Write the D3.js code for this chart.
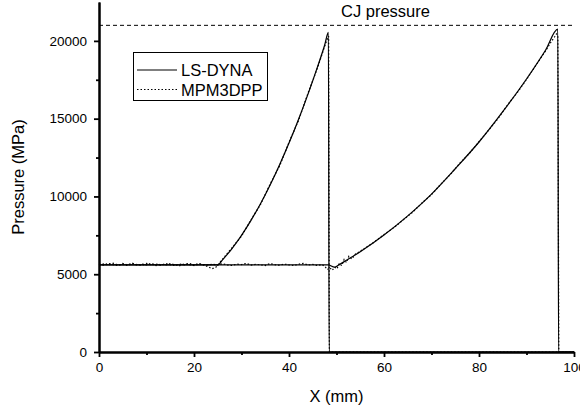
<!DOCTYPE html>
<html lang="en">
<head>
<meta charset="UTF-8">
<title>Pressure profile</title>
<script src="https://d3js.org/d3.v7.min.js"></script>
<style>
  body { margin: 0; background: #fff; }
  text { font-family: "Liberation Sans", Arial, sans-serif; fill: #000; }
</style>
</head>
<body>
<script>
// x in mm, pressure in MPa
const lsDynaA = [[0,5600],[25,5600],[26,5920],[27,6270],[28,6650],[29,7060],[30,7500],[32,8460],[34,9530],
  [36,10720],[38,12020],[40,13430],[42,14950],[44,16580],[46,18330],[47.5,19720],[48.3,20550],[48.45,0],[100,0]]
const lsDynaB = [[0,5600],[48.2,5600],[49.6,5450],[50.5,5600],[52,5880],[55,6450],[60,7520],[65,8750],
  [70,10150],[75,11780],[80,13500],[85,15450],[90,17550],[94,19400],[96.6,20750],[96.75,0],[100,0]]
const mpmA = [[0,5650],[1,5580],[2,5700],[3,5610],[4,5560],[5,5690],[6,5600],[7,5720],[8,5570],[9,5650],
  [10,5600],[11,5700],[12,5560],[13,5640],[14,5590],[15,5680],[16,5600],[17,5550],[18,5660],[19,5620],
  [20,5580],[21,5700],[22,5600],[23,5480],[23.8,5350],[24.6,5450],[25.3,5700],[26.5,6150],[28,6700],
  [30,7450],[32,8500],[34,9480],[36,10780],[38,11950],[40,13480],[42,14880],[44,16640],[46,18260],
  [47.5,19650],[48.1,20150],[48.35,20300],[48.5,0],[100,0]]
const mpmB = [[0,5580],[1,5660],[2,5600],[3,5710],[4,5590],[5,5640],[6,5560],[7,5680],[8,5620],[9,5570],
  [10,5700],[11,5600],[12,5660],[13,5580],[14,5690],[15,5610],[16,5570],[17,5650],[18,5600],[19,5710],
  [20,5560],[21,5640],[22,5620],[23,5600],[24,5650],[25,5580],[26,5680],[27,5600],[28,5560],[29,5650],
  [30,5620],[31,5700],[32,5580],[33,5640],[34,5600],[35,5560],[36,5690],[37,5610],[38,5580],[39,5650],
  [40,5600],[41,5560],[42,5640],[43,5700],[44,5590],[45,5630],[46,5560],[47,5620],[47.6,5480],[48.1,5300],
  [48.6,5420],[49.1,5250],[49.6,5450],[50.1,5350],[50.6,5700],[51.1,5550],[51.6,5950],[52.1,5750],
  [52.6,6150],[53.2,5980],[54,6300],[55,6480],[56,6680],[58,7080],[60,7550],[62,7980],[64,8480],
  [66,8980],[68,9580],[70,10120],[72,10800],[74,11420],[76,12150],[78,12780],[80,13520],[82,14250],
  [84,15000],[86,15880],[88,16650],[90,17520],[92,18450],[94,19350],[95,19850],[96,20300],[96.3,20450],
  [96.6,20350],[96.8,0],[100,0]]

const seriesNames = ["LS-DYNA", "MPM3DPP"]
const cjPressure = 21000
const cjLabel = "CJ pressure"
const xMajor = [0, 20, 40, 60, 80, 100]
const xMinor = [10, 30, 50, 70, 90]
const yMajor = [0, 5000, 10000, 15000, 20000]
const yMinor = [2500, 7500, 12500, 17500]

const width = 580, height = 412
const svg = d3.select("body").append("svg")
  .attr("width", width).attr("height", height)

const x = d3.scaleLinear().domain([0, 100]).range([99, 574])
const y = d3.scaleLinear().domain([0, 22500]).range([352, 2])

const smooth = d3.line().x(d => x(d[0])).y(d => y(d[1])).curve(d3.curveMonotoneX)
const raw = d3.line().x(d => x(d[0])).y(d => y(d[1]))

// CJ pressure reference
svg.append("line")
  .attr("x1", x(0)).attr("x2", x(100))
  .attr("y1", y(cjPressure)).attr("y2", y(cjPressure))
  .attr("stroke", "#000").attr("stroke-width", 1)
  .attr("stroke-dasharray", "4,3")
svg.append("text")
  .attr("x", 341).attr("y", 17)
  .attr("font-size", 16.5)
  .text(cjLabel)

// curves
for (let d of [lsDynaA, lsDynaB]) {
  svg.append("path").datum(d).attr("d", smooth)
    .attr("fill", "none").attr("stroke", "#000").attr("stroke-width", 1.25)
}
for (let d of [mpmA, mpmB]) {
  svg.append("path").datum(d).attr("d", raw)
    .attr("fill", "none").attr("stroke", "#000").attr("stroke-width", 1.2)
    .attr("stroke-dasharray", "1.5,2")
}

// axes
function styleAxis(g) {
  g.select(".domain").attr("stroke-width", 2)
  g.selectAll(".tick line").attr("stroke-width", 1.8)
  g.selectAll(".tick text").attr("font-size", 13.5)
    .style("font-family", '"Liberation Sans", Arial, sans-serif')
}
svg.append("g").attr("transform", `translate(0,${y(0)})`)
  .call(d3.axisBottom(x).tickValues(xMinor).tickSize(3).tickFormat("").tickSizeOuter(0))
  .call(styleAxis)
svg.append("g").attr("transform", `translate(0,${y(0)})`)
  .call(d3.axisBottom(x).tickValues(xMajor).tickSize(5).tickPadding(5).tickFormat(d3.format("d")).tickSizeOuter(0))
  .call(styleAxis)
svg.append("g").attr("transform", `translate(${x(0)},0)`)
  .call(d3.axisLeft(y).tickValues(yMinor).tickSize(3).tickFormat("").tickSizeOuter(0))
  .call(styleAxis)
svg.append("g").attr("transform", `translate(${x(0)},0)`)
  .call(d3.axisLeft(y).tickValues(yMajor).tickSize(5).tickPadding(7).tickFormat(d3.format("d")).tickSizeOuter(0))
  .call(styleAxis)

// axis titles
svg.append("text")
  .attr("x", (x(0) + x(100)) / 2).attr("y", 402)
  .attr("text-anchor", "middle").attr("font-size", 16.5)
  .text("X (mm)")
svg.append("text")
  .attr("transform", `translate(24,${(y(0) + y(22500)) / 2}) rotate(-90)`)
  .attr("text-anchor", "middle").attr("font-size", 16.5)
  .text("Pressure (MPa)")

// legend
const legend = svg.append("g")
legend.append("rect")
  .attr("x", 133.5).attr("y", 52.5).attr("width", 134).attr("height", 48)
  .attr("fill", "#fff").attr("stroke", "#000").attr("stroke-width", 1)
seriesNames.forEach((name, i) => {
  const ly = 70 + i * 19.5
  legend.append("line")
    .attr("x1", 137).attr("x2", 177).attr("y1", ly).attr("y2", ly)
    .attr("stroke", "#000").attr("stroke-width", 1.2)
    .attr("stroke-dasharray", i === 0 ? null : "1.5,2")
  legend.append("text")
    .attr("x", 181).attr("y", ly + 6)
    .attr("font-size", 16.5)
    .text(name)
})
</script>
</body>
</html>
